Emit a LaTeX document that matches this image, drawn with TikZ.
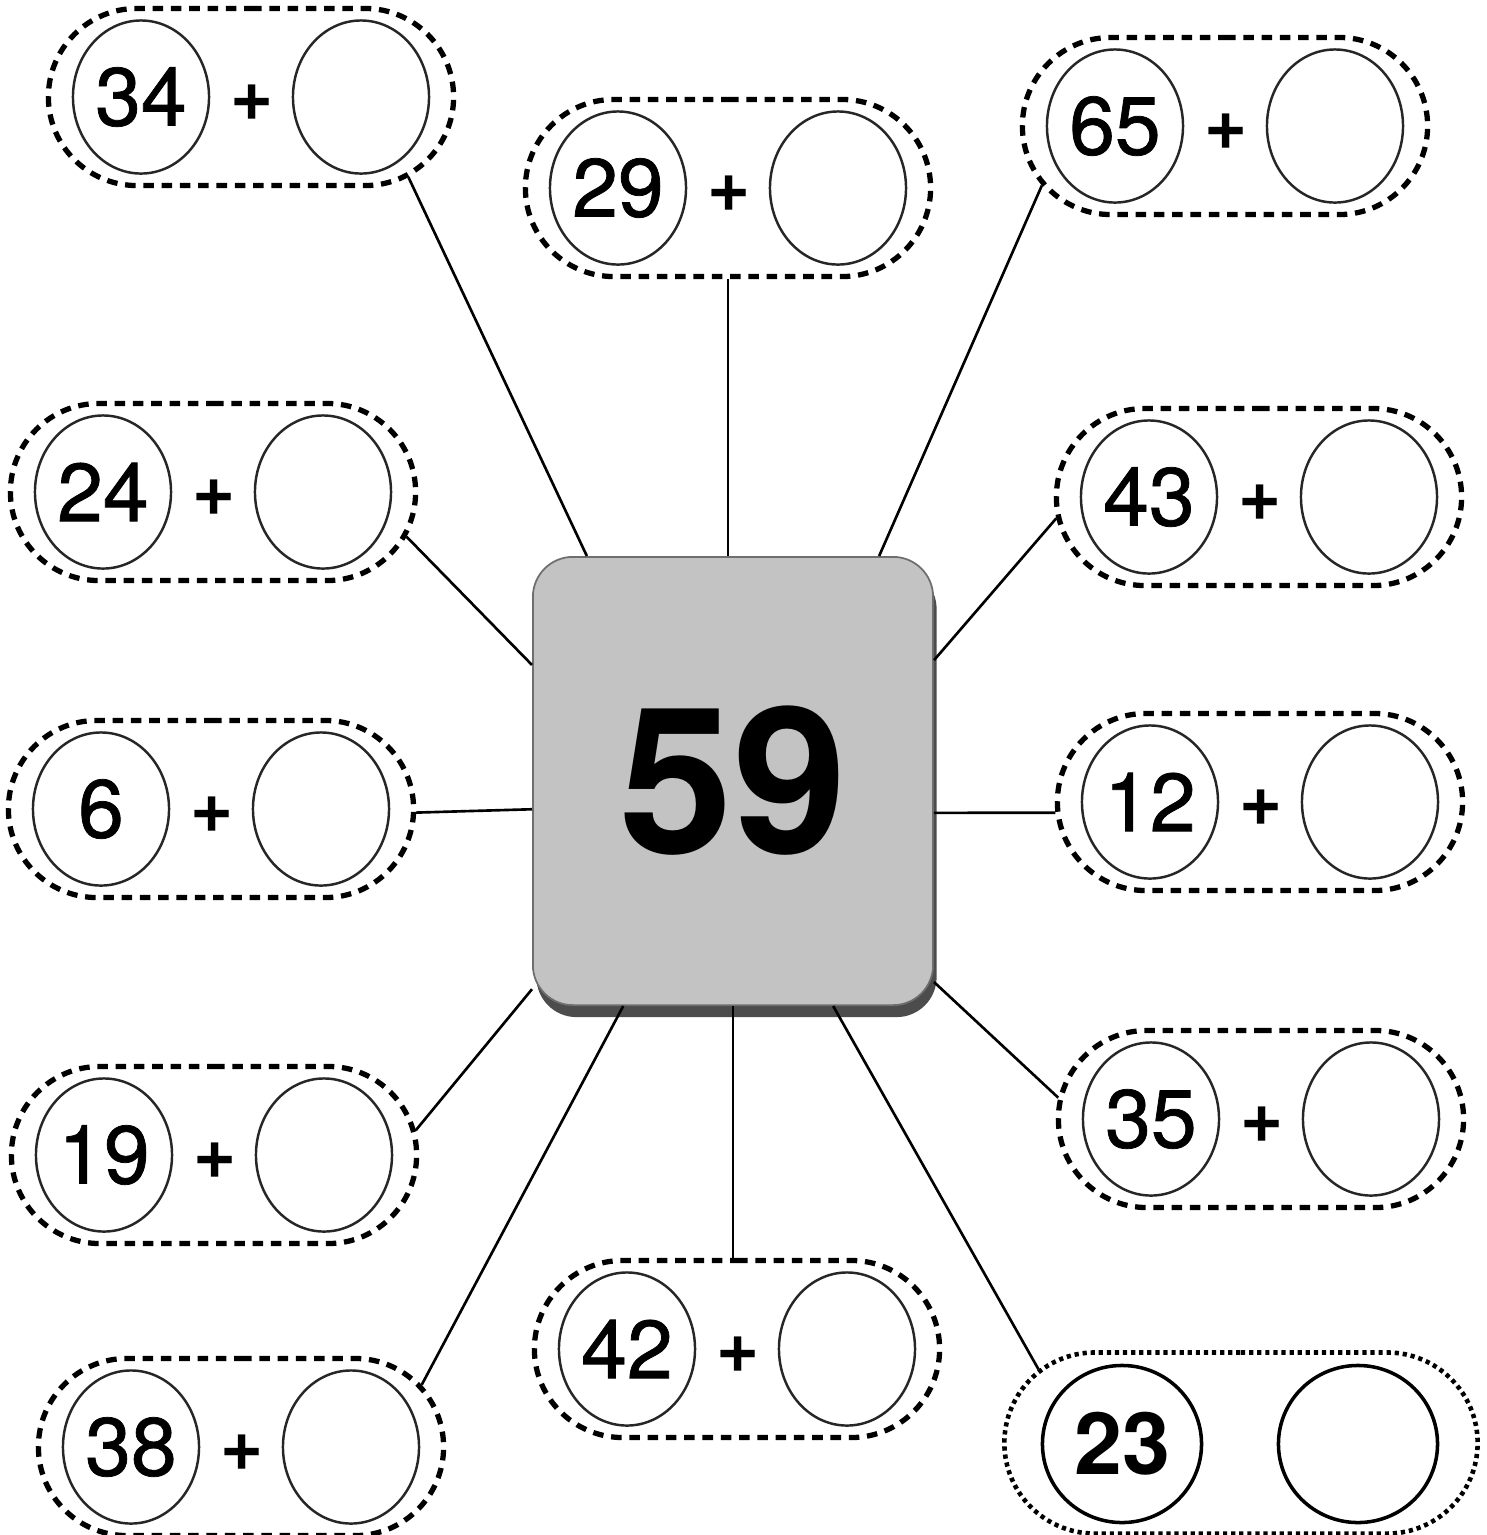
\documentclass[tikz,border=0pt]{standalone}
\usepackage{fontspec}
\setmainfont{TeX Gyre Heros}
\newfontfamily\numfont[FakeBold=0.9]{TeX Gyre Heros}
\usepackage{tikz}
\usetikzlibrary{positioning,shapes.geometric,shapes.misc,shadows}
\definecolor{keygray}{RGB}{195,195,195}
\definecolor{keyedge}{RGB}{110,110,110}

\begin{document}
\begin{tikzpicture}[x=0.01cm,y=-0.01cm,
  pill/.style={rounded rectangle, draw, line width=1.5pt, dash pattern=on 3pt off 2.2pt,
    minimum width=4.05cm, minimum height=1.77cm, inner sep=0pt},
  bigpill/.style={rounded rectangle, draw, line width=1.3pt, dash pattern=on 1.2pt off 1.1pt,
    minimum width=4.73cm, minimum height=1.81cm, inner sep=0pt},
  slot/.style={ellipse, draw=black!85, line width=0.7pt, minimum width=1.36cm,
    minimum height=1.53cm, inner sep=0pt, font=\numfont\fontsize{23.4}{24}\selectfont},
  bigslot/.style={ellipse, draw, line width=1pt, minimum width=1.59cm,
    minimum height=1.57cm, inner sep=0pt, font=\fontsize{24.5}{26}\selectfont\bfseries},
  plus/.style={inner sep=0pt, font=\fontsize{21}{22}\selectfont\bfseries},
  link/.style={line width=0.75pt},
  key/.style={draw=keyedge, line width=0.5pt, fill=keygray, rounded corners=0.4cm,
    minimum width=4cm, minimum height=4.48cm, font=\fontsize{58}{60}\selectfont\bfseries,
    drop shadow={shadow xshift=1pt, shadow yshift=-3.4pt, fill=black!70, opacity=1}}]
\useasboundingbox (0,0) rectangle (1487,1535);

\node[key] (box) at (733,781) {59};

\foreach \x/\y/\v in {251/97/34, 728/188/29, 1225/126/65, 213/492/24, 1259/497/43,
  211/809/6, 1260/802/12, 214/1155/19, 1261/1119/35, 737/1349/42, 241/1447/38} {
  \node[pill] (s\v) at (\x,\y) {};
  \node[slot] (s\v l) at (\x-110,\y) {\v};
  \node[plus] (s\v p) at (\x+1,\y+6) {+};
  \node[slot] (s\v r) at (\x+110,\y) {};
}

\node[bigpill] (s23) at (1241,1443) {};
\node[bigslot] (s23l) at (1122,1444) {23};
\node[bigslot] (s23r) at (1358,1444) {};

\draw[link] (s34.-27) -- (box.123);
\draw[link] (s29.south) -- (s29.south |- box.north);
\draw[link] (s65.198) -- (box.57);
\draw[link] (s24.-13) -- (box.150);
\draw[link] (s43.186) -- (box.31);
\draw[link] (s6.-1) -- (box.188);
\draw[link] (s12.183) -- (box.-9);
\draw[link] (s19.7) -- (box.226);
\draw[link] (s35.174) -- (box.-45);
\draw[link] (s38.19) -- (box.244);
\draw[link] (box.south) -- (box.south |- s42.north);
\draw[link] (s23.160) -- (box.-66);
\end{tikzpicture}
\end{document}
